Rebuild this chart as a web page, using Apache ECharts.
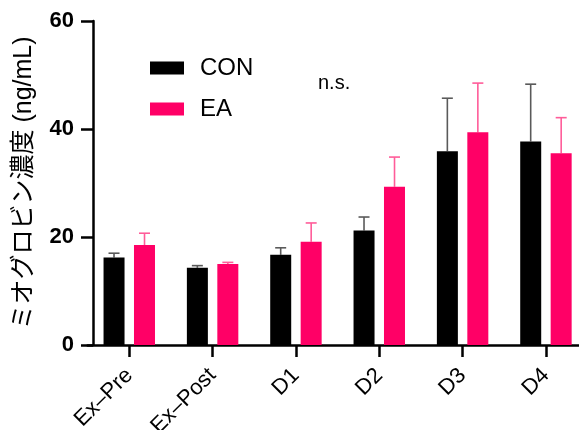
<!DOCTYPE html>
<html>
<head>
<meta charset="utf-8">
<script src="https://cdn.jsdelivr.net/npm/echarts@6/dist/echarts.min.js"></script>
<style>html,body{margin:0;padding:0;background:#fff;}#c{width:579px;height:430px;}</style>
</head>
<body>
<div id="c"></div>
<script>
const categories = ['Ex–Pre', 'Ex–Post', 'D1', 'D2', 'D3', 'D4'];
const conMean = [16.2, 14.3, 16.7, 21.2, 35.9, 37.7];
const conUpper = [17.0, 14.7, 18.0, 23.7, 45.7, 48.3];
const eaMean = [18.5, 15.0, 19.1, 29.3, 39.4, 35.5];
const eaUpper = [20.7, 15.3, 22.6, 34.8, 48.5, 42.1];
const yTicks = [0, 20, 40, 60];

const FONT = 'Liberation Sans, Arial, sans-serif';
const chart = echarts.init(document.getElementById('c'));

function errSeries(name, mean, upper, sign, color) {
  return {
    type: 'custom',
    name: name + ' err',
    z: 1,
    silent: true,
    data: mean.map((m, i) => [i, m, upper[i]]),
    renderItem: function (params, api) {
      const i = api.value(0);
      const p = api.coord([i, api.value(1)]);
      const q = api.coord([i, api.value(2)]);
      const bw = api.size([1, 0])[0];
      const x = p[0] + sign * bw * 0.183;
      const cap = 5.5;
      return {
        type: 'group',
        children: [
          { type: 'line', shape: { x1: x, y1: p[1], x2: x, y2: q[1] }, style: { stroke: color, lineWidth: 1.6 } },
          { type: 'line', shape: { x1: x - cap, y1: q[1], x2: x + cap, y2: q[1] }, style: { stroke: color, lineWidth: 1.6 } }
        ]
      };
    }
  };
}

chart.setOption({
  animation: false,
  backgroundColor: '#fff',
  grid: { left: 87.6, right: -8.6, top: 21, bottom: 85, outerBoundsMode: 'none' },
  legend: {
    left: 145,
    top: 51,
    orient: 'vertical',
    itemWidth: 34,
    itemHeight: 13,
    itemGap: 17,
    icon: 'rect',
    data: ['CON', 'EA'],
    textStyle: { fontFamily: FONT, fontSize: 24, color: '#000', lineHeight: 22, padding: [0, 0, 0, 11] }
  },
  xAxis: {
    type: 'category',
    data: categories,
    axisLine: { show: true, lineStyle: { color: '#000', width: 2.5 } },
    axisTick: { show: true, alignWithLabel: true, length: 12, lineStyle: { color: '#000', width: 2.5 } },
    axisLabel: { interval: 0, rotate: 45, fontFamily: FONT, fontSize: 22, color: '#000', margin: 27 }
  },
  yAxis: {
    type: 'value',
    min: 0,
    max: 60,
    interval: 20,
    offset: -5.4,
    name: 'ミオグロビン濃度 (ng/mL)',
    nameLocation: 'middle',
    nameGap: 56,
    nameTextStyle: { fontFamily: 'Liberation Sans, Noto Sans CJK JP, sans-serif', fontSize: 25, fontWeight: 'normal', color: '#000' },
    splitLine: { show: false },
    axisLine: { show: true, lineStyle: { color: '#000', width: 2.5 } },
    axisTick: { show: true, length: 12, lineStyle: { color: '#000', width: 2.5 } },
    axisLabel: { fontFamily: FONT, fontSize: 22, fontWeight: 'bold', color: '#000', margin: 19,
      formatter: v => yTicks.includes(v) ? String(v) : '' }
  },
  graphic: [
    { type: 'text', left: 318, top: 73, style: { text: 'n.s.', font: '20px ' + FONT, fill: '#000' } }
  ],
  series: [
    { name: 'CON', type: 'bar', data: conMean, barWidth: '25.2%', barGap: '45%', itemStyle: { color: '#000' }, z: 2 },
    { name: 'EA', type: 'bar', data: eaMean, barWidth: '25.2%', barGap: '45%', itemStyle: { color: '#ff0066' }, z: 2 },
    errSeries('CON', conMean, conUpper, -1, '#5a5a5a'),
    errSeries('EA', eaMean, eaUpper, 1, '#ff5c99')
  ]
});
</script>
</body>
</html>
